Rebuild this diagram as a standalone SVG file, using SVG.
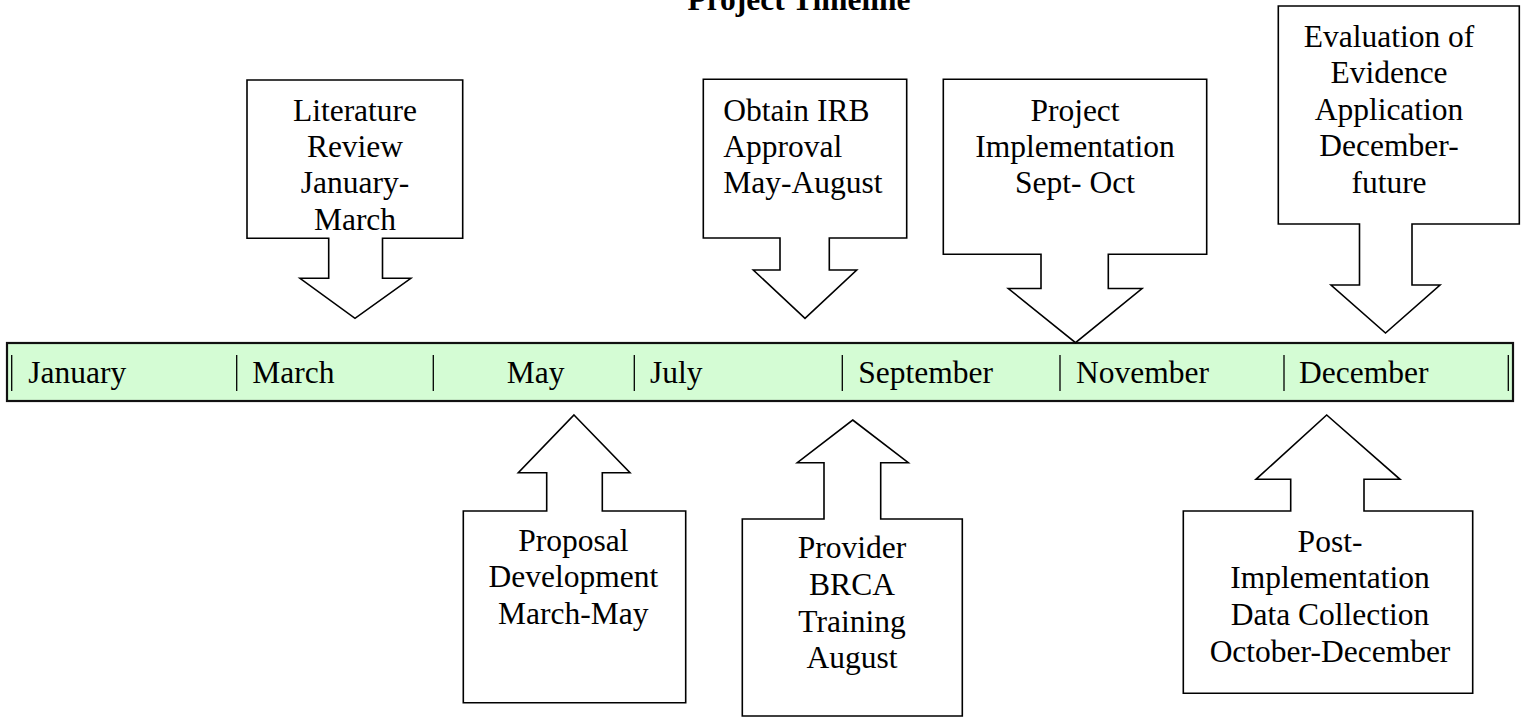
<svg xmlns="http://www.w3.org/2000/svg" width="1527" height="717" viewBox="0 0 1527 717">
<style>
.c{fill:#fff;stroke:#000;stroke-width:1.6;stroke-linejoin:miter}
.t{font-family:"Liberation Serif","Times New Roman",serif;font-size:31.5px;fill:#000}
.m{text-anchor:middle}
.tick{stroke:#000;stroke-width:1.3}
</style>
<rect width="1527" height="717" fill="#fff"/>
<text class="t m" x="799" y="10" font-weight="bold">Project Timeline</text>
<g id="timeline">
<rect x="7" y="343" width="1506" height="58" fill="#d4fcd4" stroke="#111" stroke-width="2.2"/>
<g class="tick">
<line x1="11.7" y1="355" x2="11.7" y2="391"/>
<line x1="236.7" y1="355" x2="236.7" y2="391"/>
<line x1="433.3" y1="355" x2="433.3" y2="391"/>
<line x1="634.3" y1="355" x2="634.3" y2="391"/>
<line x1="842.3" y1="355" x2="842.3" y2="391"/>
<line x1="1060" y1="355" x2="1060" y2="391"/>
<line x1="1284" y1="355" x2="1284" y2="391"/>
<line x1="1508.3" y1="355" x2="1508.3" y2="391"/>
</g>
<text class="t" x="28.3" y="383">January</text>
<text class="t" x="252.3" y="383">March</text>
<text class="t" x="506.7" y="383">May</text>
<text class="t" x="650" y="383">July</text>
<text class="t" x="858.3" y="383">September</text>
<text class="t" x="1076" y="383">November</text>
<text class="t" x="1299" y="383">December</text>
</g>
<g id="literature-review">
<path class="c" d="M247,80 H462.7 V238.3 H382.5 V278.3 H410.8 L355,318.3 L300,278.3 H328.7 V238.3 H247 Z"/>
<text class="t m" x="355" y="120.7">Literature</text>
<text class="t m" x="355" y="157">Review</text>
<text class="t m" x="355" y="193.3">January-</text>
<text class="t m" x="355" y="229.6">March</text>
</g>
<g id="obtain-irb">
<path class="c" d="M703.3,79.3 H906.7 V238 H829.3 V270 H856.7 L805,318.3 L753.3,270 H780 V238 H703.3 Z"/>
<text class="t" x="723.3" y="120.7">Obtain IRB</text>
<text class="t" x="723.3" y="157">Approval</text>
<text class="t" x="723.3" y="193.3">May-August</text>
</g>
<g id="project-implementation">
<path class="c" d="M943.3,79.3 H1206.7 V254.3 H1108.3 V288.5 H1142 L1075.5,342.7 L1008.3,288.5 H1041 V254.3 H943.3 Z"/>
<text class="t m" x="1075" y="120.7">Project</text>
<text class="t m" x="1075" y="157">Implementation</text>
<text class="t m" x="1075" y="193.3">Sept- Oct</text>
</g>
<g id="evaluation">
<path class="c" d="M1278.3,6 H1519.3 V224 H1412 V285 H1440 L1385.5,333 L1331,285 H1359.5 V224 H1278.3 Z"/>
<text class="t m" x="1389" y="46.7">Evaluation of</text>
<text class="t m" x="1389" y="83.3">Evidence</text>
<text class="t m" x="1389" y="119.8">Application</text>
<text class="t m" x="1389" y="156.3">December-</text>
<text class="t m" x="1389" y="192.8">future</text>
</g>
<g id="proposal-development">
<path class="c" d="M574,415 L630,472.7 H602.3 V511 H685.7 V702.7 H463.3 V511 H546.7 V472.7 H518.3 Z"/>
<text class="t m" x="573.3" y="550.5">Proposal</text>
<text class="t m" x="573.3" y="587">Development</text>
<text class="t m" x="573.3" y="623.5">March-May</text>
</g>
<g id="provider-training">
<path class="c" d="M852.7,420 L908.3,462.7 H880.7 V519 H962.3 V716 H742.3 V519 H824 V462.7 H797.3 Z"/>
<text class="t m" x="852" y="558.3">Provider</text>
<text class="t m" x="852" y="595">BRCA</text>
<text class="t m" x="852" y="631.7">Training</text>
<text class="t m" x="852" y="668.3">August</text>
</g>
<g id="post-implementation">
<path class="c" d="M1326.7,415 L1400,479.3 H1364 V511 H1472.7 V693.3 H1183.3 V511 H1290.7 V479.3 H1256 Z"/>
<text class="t m" x="1330" y="551.7">Post-</text>
<text class="t m" x="1330" y="588.3">Implementation</text>
<text class="t m" x="1330" y="625">Data Collection</text>
<text class="t m" x="1330" y="661.7">October-December</text>
</g>
<g id="connectors"/>
</svg>
